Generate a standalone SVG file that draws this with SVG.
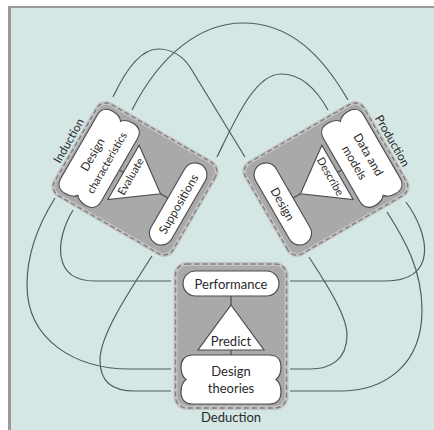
<svg xmlns="http://www.w3.org/2000/svg" xmlns:xlink="http://www.w3.org/1999/xlink" width="434" height="430" viewBox="0 0 434 430">
  <style>
    .wire{fill:none;stroke:#4c6060;stroke-width:1.2}
    .panel{fill:#a9a9a9;stroke:#c4c4c4;stroke-width:4}
    .dash{fill:none;stroke:#7e7e7e;stroke-width:1.4;stroke-dasharray:5 3}
    .shape{fill:#fff;stroke:#4d4d4d;stroke-width:1.2}
    .tick{stroke:#4d4d4d;stroke-width:1.2}
    text{font-family:Lato,"Liberation Sans",sans-serif;font-size:13px;fill:#2a2a2a;text-anchor:middle;dominant-baseline:central}
    .side text{font-size:12.5px}
    .side .small{font-size:11.5px}
  </style>
  <defs>
    <!-- one panel: pill on top, triangle, cloud below; drawn around its own centre -->
    <g id="panel">
      <rect class="panel" x="-55.5" y="-72" width="111" height="144" rx="11"/>
      <rect class="dash" x="-55.5" y="-72" width="111" height="144" rx="11"/>
      <line class="tick" x1="0" y1="-40" x2="0" y2="-31"/>
      <line class="tick" x1="0" y1="14" x2="0" y2="19"/>
      <rect class="shape" x="-48" y="-65" width="96" height="25" rx="12.5"/>
      <polygon class="shape" points="0,-31 33,14 -33,14"/>
      <path class="shape" d="M -38,19 H 38 C 47,19 50,25 50,31 C 50,38 47,42 45,43.5 C 47,45 50,49 50,56 C 50,62 47,68 38,68 H -38 C -47,68 -50,62 -50,56 C -50,49 -47,45 -45,43.5 C -47,42 -50,38 -50,31 C -50,25 -47,19 -38,19 Z"/>
    </g>
  </defs>

  <!-- frame -->
  <rect x="0" y="0" width="434" height="430" fill="#ffffff"/>
  <rect x="8" y="6" width="426" height="424" fill="#9a9a9a"/>
  <rect x="11" y="8" width="423" height="422" fill="#d4e7e5"/>

  <g id="connectors">
    <path class="wire" d="M 55,198 C 38,225 27,255 27,285 C 27,340 75,369 130,369 L 171,369"/>
    <path class="wire" d="M 73,210 C 55,240 52,281 95,281 L 171,281"/>
    <path class="wire" d="M 152,256 C 130,290 100,335 100,360 C 100,382 112,391 135,391 L 171,391"/>
    <path class="wire" d="M 406,202 C 430,235 438,281 385,281 L 290,281"/>
    <path class="wire" d="M 387,212 C 405,240 422,270 422,310 C 422,365 385,391 340,391 L 290,391"/>
    <path class="wire" d="M 309,257 C 325,282 347,315 347,335 C 347,360 330,369 310,369 L 290,369"/>
    <path class="wire" d="M 113,97 C 128,65 143,49 158,49 C 170,49 182,55 190,67 L 245,157"/>
    <path class="wire" d="M 132,110 C 160,55 200,23 243,23 C 290,23 322,55 348,100"/>
    <path class="wire" d="M 217,157 C 235,120 255,74 281,74 C 303,74 318,92 328,110"/>
  </g>

  <g id="induction" class="side" transform="translate(135,179) rotate(120) scale(0.95)">
    <use xlink:href="#panel"/>
    <g transform="rotate(180)">
      <text x="0" y="52.5">Suppositions</text>
      <text class="small" x="0" y="-6">Evaluate</text>
      <text x="0" y="-52">Design</text>
      <text class="small" x="0" y="-35">characteristics</text>
      <text x="0" y="-81">Induction</text>
    </g>
  </g>

  <g id="production" class="side" transform="translate(326,179) rotate(-120) scale(0.95)">
    <use xlink:href="#panel"/>
    <g transform="rotate(180)">
      <text x="0" y="52.5">Design</text>
      <text class="small" x="0" y="-6">Describe</text>
      <text x="0" y="-52">Data and</text>
      <text x="0" y="-35">models</text>
      <text x="0" y="-81">Production</text>
    </g>
  </g>

  <g id="deduction" transform="translate(231,336)">
    <use xlink:href="#panel"/>
    <text x="0" y="-52.5">Performance</text>
    <text x="0" y="5">Predict</text>
    <text x="0" y="35">Design</text>
    <text x="0" y="52">theories</text>
    <text x="0" y="81">Deduction</text>
  </g>
</svg>
